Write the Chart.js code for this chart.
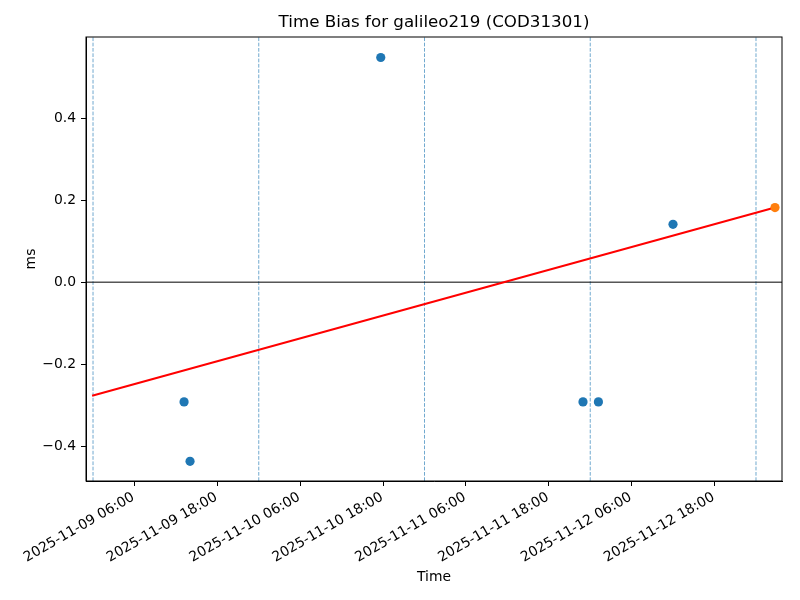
<!DOCTYPE html>
<html>
<head>
<meta charset="utf-8">
<script src="https://cdn.jsdelivr.net/npm/chart.js@4.4.0/dist/chart.umd.min.js"></script>
<style>
  body { margin: 0; background: #fff; }
</style>
</head>
<body>
<canvas id="c" width="800" height="600"></canvas>
<script>
// time bias samples (UTC)
const biasTimes = ["2025-11-09T13:11", "2025-11-09T14:03", "2025-11-10T17:40",
                   "2025-11-11T22:57", "2025-11-12T01:11", "2025-11-12T11:59"];
const biasValues = [-0.292, -0.437, 0.548, -0.292, -0.292, 0.141];

// predicted / latest point
const latestTimes = ["2025-11-13T02:45"];
const latestValues = [0.182];

// linear fit
const fitTimes = ["2025-11-08T23:52", "2025-11-13T02:45"];
const fitValues = [-0.277, 0.182];

// day boundaries
const dayLines = ["2025-11-09T00:00", "2025-11-10T00:00", "2025-11-11T00:00",
                  "2025-11-12T00:00", "2025-11-13T00:00"];

// axis
const xMinTime = "2025-11-08T22:59";
const xMaxTime = "2025-11-13T03:46";
const xTickTimes = ["2025-11-09T06:00", "2025-11-09T18:00", "2025-11-10T06:00", "2025-11-10T18:00",
                    "2025-11-11T06:00", "2025-11-11T18:00", "2025-11-12T06:00", "2025-11-12T18:00"];
const yTicks = [-0.4, -0.2, 0.0, 0.2, 0.4];
const yMin = -0.485, yMax = 0.598;

const chartTitle = "Time Bias for galileo219 (COD31301)";

function t(s) { return Date.parse(s + ":00Z"); }
function pad(n) { return String(n).padStart(2, "0"); }
function fmtTime(ms) {
    const d = new Date(ms);
    return d.getUTCFullYear() + "-" + pad(d.getUTCMonth() + 1) + "-" + pad(d.getUTCDate()) +
        " " + pad(d.getUTCHours()) + ":" + pad(d.getUTCMinutes());
}

const xMin = t(xMinTime), xMax = t(xMaxTime);
const FONT = "'DejaVu Sans', sans-serif";

const datasets = [];

dayLines.forEach(s => {
    datasets.push({
        type: "line",
        data: [{x: t(s), y: yMin}, {x: t(s), y: yMax}],
        borderColor: "rgba(31,119,180,0.8)",
        borderWidth: 0.8,
        borderDash: [3.7, 1.6],
        pointRadius: 0,
        order: 5
    });
});

datasets.push({
    type: "line",
    data: [{x: xMin, y: 0}, {x: xMax, y: 0}],
    borderColor: "#000",
    borderWidth: 1,
    pointRadius: 0,
    order: 4
});

datasets.push({
    type: "line",
    data: fitTimes.map((s, i) => ({x: t(s), y: fitValues[i]})),
    borderColor: "#ff0000",
    borderWidth: 2,
    pointRadius: 0,
    order: 3
});

datasets.push({
    type: "scatter",
    data: biasTimes.map((s, i) => ({x: t(s), y: biasValues[i]})),
    backgroundColor: "#1f77b4",
    borderWidth: 0,
    pointRadius: 4.6,
    order: 2
});

datasets.push({
    type: "scatter",
    data: latestTimes.map((s, i) => ({x: t(s), y: latestValues[i]})),
    backgroundColor: "#ff7f0e",
    borderWidth: 0,
    pointRadius: 4.6,
    order: 1
});

/* -------- frame round the plot + title centred on the axes -------- */
const frame = {
    id: "frame",
    afterDraw(chart) {
        const a = chart.chartArea, ctx = chart.ctx;
        ctx.save();
        ctx.strokeStyle = "#000";
        ctx.lineWidth = 1;
        ctx.strokeRect(a.left, a.top, a.right - a.left, a.bottom - a.top);
        ctx.fillStyle = "#000";
        ctx.font = "16.7px " + FONT;
        ctx.textAlign = "center";
        ctx.textBaseline = "middle";
        ctx.fillText(chartTitle, (a.left + a.right) / 2, 22.5);
        ctx.restore();
    }
};

new Chart(document.getElementById("c"), {
    type: "scatter",
    data: { datasets },
    options: {
        responsive: false,
        animation: false,
        layout: { padding: { left: 0, right: 18, top: 37, bottom: 0 } },
        plugins: {
            legend: { display: false },
            tooltip: { enabled: false },
            title: { display: false }
        },
        scales: {
            x: {
                type: "linear",
                min: xMin,
                max: xMax,
                afterBuildTicks: s => { s.ticks = xTickTimes.map(v => ({ value: t(v) })); },
                afterFit: s => { s.height = 119; },
                grid: { display: true, drawOnChartArea: false, drawTicks: true, tickLength: 5, color: "#000" },
                border: { display: true, color: "#000", width: 1 },
                ticks: {
                    autoSkip: false,
                    maxRotation: 30,
                    minRotation: 30,
                    padding: 3,
                    labelOffset: -1,
                    color: "#000",
                    font: { family: FONT, size: 13.9 },
                    callback: v => fmtTime(v)
                },
                title: {
                    display: true,
                    text: "Time",
                    color: "#000",
                    font: { family: FONT, size: 13.9, lineHeight: 1.2 },
                    padding: { top: 0, bottom: 14 }
                }
            },
            y: {
                min: yMin,
                max: yMax,
                afterBuildTicks: s => { s.ticks = yTicks.map(v => ({ value: v })); },
                afterFit: s => { s.width = 86; },
                grid: { display: true, drawOnChartArea: false, drawTicks: true, tickLength: 5, color: "#000" },
                border: { display: true, color: "#000", width: 1 },
                ticks: {
                    padding: 5,
                    color: "#000",
                    font: { family: FONT, size: 13.9 },
                    callback: v => (v < 0 ? "\u2212" : "") + Math.abs(v).toFixed(1)
                },
                title: {
                    display: true,
                    text: "ms",
                    color: "#000",
                    font: { family: FONT, size: 13.9, lineHeight: 1.2 },
                    padding: { top: 23, bottom: 0 }
                }
            }
        }
    },
    plugins: [frame]
});
</script>
</body>
</html>
